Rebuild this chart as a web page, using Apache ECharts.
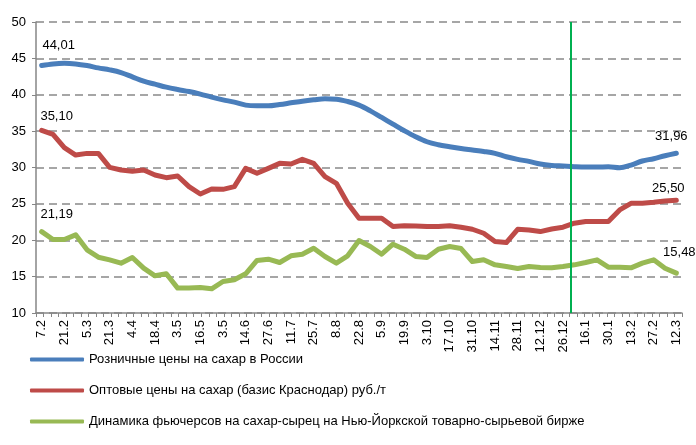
<!DOCTYPE html>
<html><head><meta charset="utf-8">
<script src="https://cdn.jsdelivr.net/npm/echarts@6/dist/echarts.min.js"></script>
<style>html,body{margin:0;padding:0;background:#fff}#c{width:696px;height:445px}</style>
</head><body><div id="c"></div>
<script>
// Tick labels (every second data point is labelled)
const tickLabels = ['7.2','21.2','5.3','21.3','4.4','18.4','3.5','16.5','3.5','14.6','27.6','11.7','25.7','8.8','22.8','5.9','19.9','3.10','17.10','31.10','14.11','28.11','12.12','26.12','16.1','30.1','13.2','27.2','12.3'];

const seriesNames = [
  'Розничные цены на сахар в России',
  'Оптовые цены на сахар (базис Краснодар) руб./т',
  'Динамика фьючерсов на сахар-сырец на Нью-Йоркской товарно-сырьевой бирже'
];

const retail = [44.01,44.24,44.33,44.24,44.01,43.69,43.42,43.05,42.46,41.86,41.45,41.04,40.72,40.44,40.08,39.67,39.30,38.98,38.57,38.48,38.48,38.66,38.89,39.12,39.30,39.44,39.39,39.07,38.57,37.79,36.88,35.96,35.05,34.22,33.54,33.13,32.85,32.60,32.40,32.20,31.94,31.48,31.12,30.84,30.48,30.29,30.20,30.11,30.06,30.06,30.11,29.97,30.34,30.89,31.21,31.62,31.96];

const wholesale = [35.10,34.55,32.72,31.71,31.94,31.94,30.02,29.65,29.50,29.65,28.97,28.60,28.83,27.37,26.36,27.05,27.00,27.37,29.88,29.20,29.88,30.57,30.48,31.12,30.57,28.74,27.82,25.08,23.02,23.02,23.02,21.88,22.00,21.97,21.88,21.88,22.00,21.79,21.51,20.96,19.82,19.68,21.51,21.42,21.19,21.55,21.79,22.34,22.57,22.57,22.57,24.17,25.08,25.08,25.22,25.40,25.50];

const futures = [21.19,20.10,20.10,20.74,18.68,17.67,17.31,16.85,17.63,16.16,15.11,15.39,13.42,13.42,13.51,13.33,14.33,14.56,15.39,17.22,17.40,16.94,17.86,18.08,18.91,17.77,16.85,17.86,19.96,19.14,18.08,19.46,18.77,17.77,17.63,18.77,19.14,18.86,17.08,17.31,16.62,16.39,16.12,16.39,16.25,16.21,16.39,16.62,16.94,17.31,16.30,16.30,16.21,16.85,17.31,16.16,15.48];

// Year boundary marker (in data-point units, between 26.12 and the next point)
const yearBoundary = 47.2;

const pointCount = retail.length;
const categories = [];
for (let i = 0; i < pointCount; i++) categories.push(i % 2 === 0 ? tickLabels[i / 2] : '');
const minorTicks = new Array(86).fill('');

const fmt = v => v.toFixed(2).replace('.', ',');
function withEndLabels(arr, startOffset, endOffset) {
  const last = arr.length - 1;
  return arr.map((v, i) => {
    if (i === 0) return { value: v, label: { show: true, offset: startOffset } };
    if (i === last) return { value: v, label: { show: true, offset: endOffset } };
    return v;
  });
}

const font = 'Liberation Sans, Arial, sans-serif';
const colors = ['#4A7EBB', '#BE4B48', '#98B954'];

const baseSeries = (name, data, color, smooth) => ({
  name, type: 'line', data, smooth,
  xAxisIndex: 0, yAxisIndex: 0,
  symbol: 'circle', symbolSize: 0, showSymbol: true,
  lineStyle: { color, width: 5, cap: 'round', join: 'round' },
  itemStyle: { color },
  label: { show: false, position: 'top', color: '#000', fontSize: 13, fontFamily: font, formatter: p => fmt(p.value) },
  emphasis: { disabled: true },
  z: 3
});

const option = {
  animation: false,
  backgroundColor: '#fff',
  color: colors,
  grid: { left: 36, right: 14, top: 22, bottom: 132, containLabel: false },
  legend: {
    orient: 'vertical', left: 25, top: 348,
    icon: 'roundRect', itemWidth: 54, itemHeight: 4, itemGap: 18,
    textStyle: { color: '#000', fontSize: 13, fontFamily: font },
    data: seriesNames,
    selectedMode: false
  },
  xAxis: [
    {
      type: 'category', data: categories, boundaryGap: true, position: 'bottom',
      axisLine: { lineStyle: { color: '#868686', width: 1.5 } },
      axisTick: { show: false },
      axisLabel: { interval: 1, rotate: 90, margin: 7, color: '#000', fontSize: 13, fontFamily: font },
      splitLine: { show: false }
    },
    {
      type: 'category', data: minorTicks, boundaryGap: true, position: 'bottom',
      axisLine: { show: false },
      axisTick: { show: true, interval: 0, length: 4, lineStyle: { color: '#868686', width: 1 } },
      axisLabel: { show: false }, splitLine: { show: false }
    },
    {
      type: 'value', min: 0, max: pointCount, show: false, position: 'bottom'
    }
  ],
  yAxis: {
    type: 'value', min: 10, max: 50, interval: 5,
    axisLine: { show: true, lineStyle: { color: '#868686', width: 1.5 } },
    axisTick: { show: true, length: 4, lineStyle: { color: '#868686' } },
    axisLabel: { color: '#000', fontSize: 13, fontFamily: font, margin: 10 },
    splitLine: { show: true, lineStyle: { color: '#A6A6A6', width: 2, type: [8, 5] } }
  },
  series: [
    baseSeries(seriesNames[0], withEndLabels(retail, [17, -9], [-5, -5]), colors[0], 0.35),
    baseSeries(seriesNames[1], withEndLabels(wholesale, [15, -2], [-8, 0]), colors[1], false),
    baseSeries(seriesNames[2], withEndLabels(futures, [15, -6], [3, -9]), colors[2], false),
    {
      name: 'divider', type: 'line', xAxisIndex: 2, yAxisIndex: 0, data: [],
      markLine: {
        silent: true, symbol: 'none', animation: false,
        label: { show: false },
        lineStyle: { color: '#00B050', width: 2, type: 'solid' },
        data: [{ xAxis: yearBoundary }]
      },
      z: 4
    }
  ]
};

const chart = echarts.init(document.getElementById('c'), null, { renderer: 'canvas' });
chart.setOption(option);
</script>
</body></html>
